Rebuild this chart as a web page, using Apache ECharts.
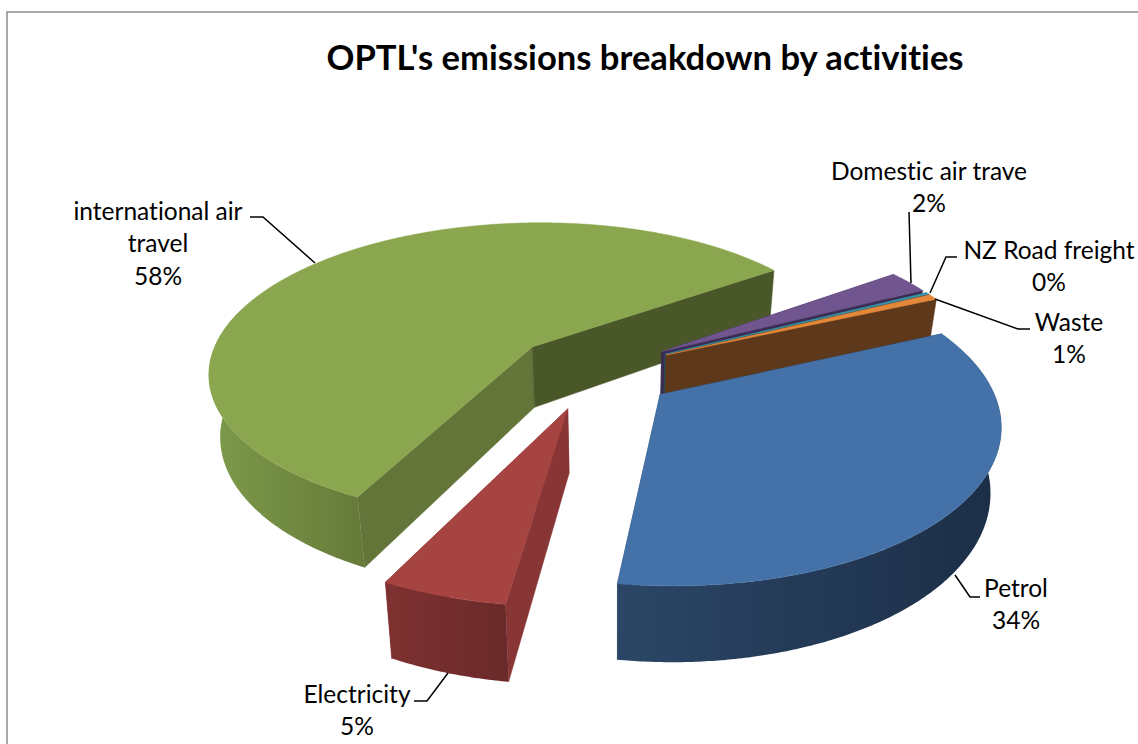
<!DOCTYPE html>
<html>
<head>
<meta charset="utf-8">
<title>OPTL emissions</title>
<script src="https://cdn.jsdelivr.net/npm/echarts@6/dist/echarts.min.js"></script>
<style>
html,body{margin:0;padding:0;background:#fff;}
#main{width:1138px;height:744px;}
#main text{font-variant-ligatures:none !important;}
</style>
</head>
<body>
<div id="main"></div>
<script>
// chart values, clockwise from the petrol slice
var categories = ['Petrol', 'Electricity', 'international air travel', 'Domestic air trave', 'NZ Road freight', 'Waste'];
var shareValues = [33.9, 5.1, 57.8, 2.4, 0.2, 0.6];
var labelLines = [['Petrol'], ['Electricity'], ['international air', 'travel'], ['Domestic air trave'], ['NZ Road freight'], ['Waste']];

// painter's order, back slices first
var drawOrder = [2, 3, 4, 5, 1, 0];

var topColors = ['#4472a8', '#a64442', '#8aa64f', '#70558f', '#3d96ae', '#e3883a'];
var faceStartColors = ['#1c2e47', '#883635', '#64753a', '#3a2c52', '#1f5563', '#5e381a'];
var faceEndColors = ['#2a4565', '#883635', '#4a5729', '#3a2c52', '#1f5563', '#5e381a'];
var wallColors = [['#2b4666', '#1c2e47'], ['#7e3130', '#6a2a2a'], ['#7d9b4b', '#667a39'], ['#3a2c52', '#3a2c52'], ['#1f5563', '#1f5563'], ['#5e381a', '#5e381a']];

// pie geometry
var cx = 593, cy = 371, radius = 326, explode = 82, depth = 62;
var tilt = 0.465, persp = 0.0005, startAngle = 66;
var vanishX = 615, depthShrink = 0.00045;

var total = 0;
for (var t = 0; t < shareValues.length; t++) total += shareValues[t];
var startAngles = [];
var acc = startAngle;
for (var a = 0; a < shareValues.length; a++) {
    startAngles[a] = acc;
    acc += shareValues[a] / total * 360;
}

function project(x, y, z) {
    var s = 1 / (1 - persp * y);
    var px = cx + x * s;
    return [vanishX + (px - vanishX) * (1 - depthShrink * z), cy + (y * tilt + z) * s];
}

function rim(ox, oy, deg, z) {
    var r = deg * Math.PI / 180;
    return project(ox + radius * Math.sin(r), oy - radius * Math.cos(r), z);
}

function arc(ox, oy, from, to, z) {
    var pts = [];
    var n = Math.max(2, Math.ceil((to - from) * 2));
    for (var i = 0; i <= n; i++) {
        pts.push(rim(ox, oy, from + (to - from) * i / n, z));
    }
    return pts;
}

function poly(points, fill) {
    return {
        type: 'polygon',
        shape: { points: points },
        style: { fill: fill, stroke: fill.colorStops ? null : fill, lineWidth: 0.5 }
    };
}

function renderSlice(params, api) {
    var i = api.value(0);
    var from = startAngles[i];
    var to = from + shareValues[i] / total * 360;
    var mid = (from + to) / 2 * Math.PI / 180;
    var ox = explode * Math.sin(mid), oy = -explode * Math.cos(mid);
    var apexTop = project(ox, oy, 0), apexBottom = project(ox, oy, depth);
    var children = [];

    // radial walls
    children.push(poly([apexTop, rim(ox, oy, from, 0), rim(ox, oy, from, depth), apexBottom], faceStartColors[i]));
    children.push(poly([apexTop, rim(ox, oy, to, 0), rim(ox, oy, to, depth), apexBottom], faceEndColors[i]));

    // outer wall, a little past the sides because perspective turns the silhouette back
    var wallFrom = Math.max(from, 75), wallTo = Math.min(to, 285);
    if (wallTo > wallFrom) {
        var upper = arc(ox, oy, wallFrom, wallTo, 0);
        var lower = arc(ox, oy, wallFrom, wallTo, depth).reverse();
        // gradient runs across the screen, colours are given left to right
        children.push(poly(upper.concat(lower), new echarts.graphic.LinearGradient(0, 0, 1, 0, [
            { offset: 0, color: wallColors[i][0] },
            { offset: 1, color: wallColors[i][1] }
        ])));
    }

    children.push(poly([apexTop].concat(arc(ox, oy, from, to, 0)), topColors[i]));
    return { type: 'group', children: children };
}

function pct(i) {
    return Math.round(shareValues[i] / total * 100) + '%';
}

// label centres and leader lines
var fontName = 'Lato, "Open Sans", sans-serif';
var labelCentres = [[1016, 587], [357, 693], [158, 210], [929, 170], [1049, 249], [1069, 321]];
var labelStep = 32.5;
var leaders = [
    [[980, 597], [970, 597], [955, 575]],
    [[414, 701], [427, 701], [448, 673]],
    [[250, 217], [263, 217], [315, 263]],
    [[909, 212], [911, 283]],
    [[957, 257], [946, 257], [930, 293]],
    [[1030, 329], [1018, 329], [935, 299]]
];

var graphics = [{
    type: 'rect',
    shape: { x: 7, y: 12, width: 1200, height: 800 },
    style: { fill: 'none', stroke: '#8c8c8c', lineWidth: 1.5 },
    z: 0
}];
for (var g = 0; g < categories.length; g++) {
    var lines = labelLines[g].concat([pct(g)]);
    for (var l = 0; l < lines.length; l++) {
        graphics.push({
            type: 'text',
            x: labelCentres[g][0],
            y: labelCentres[g][1] + l * labelStep,
            style: { text: lines[l], fill: '#000', font: '24.5px ' + fontName, textAlign: 'center', textVerticalAlign: 'middle' },
            z: 5
        });
    }
    graphics.push({
        type: 'polyline',
        shape: { points: leaders[g] },
        style: { fill: 'none', stroke: '#000', lineWidth: 1.5 },
        z: 5
    });
}

var myChart = echarts.init(document.getElementById('main'), null, { renderer: 'svg' });
myChart.setOption({
    animation: false,
    backgroundColor: '#fff',
    title: {
        text: "OPTL's emissions breakdown by activities",
        left: 640,
        top: 34,
        textAlign: 'center',
        textStyle: { fontFamily: 'Lato, "Open Sans", sans-serif', fontWeight: 'bold', fontSize: 34.6, color: '#000' }
    },
    graphic: graphics,
    series: [{
        type: 'custom',
        coordinateSystem: 'none',
        silent: true,
        renderItem: renderSlice,
        data: drawOrder.map(function (i) { return [i]; })
    }]
});
</script>
</body>
</html>
